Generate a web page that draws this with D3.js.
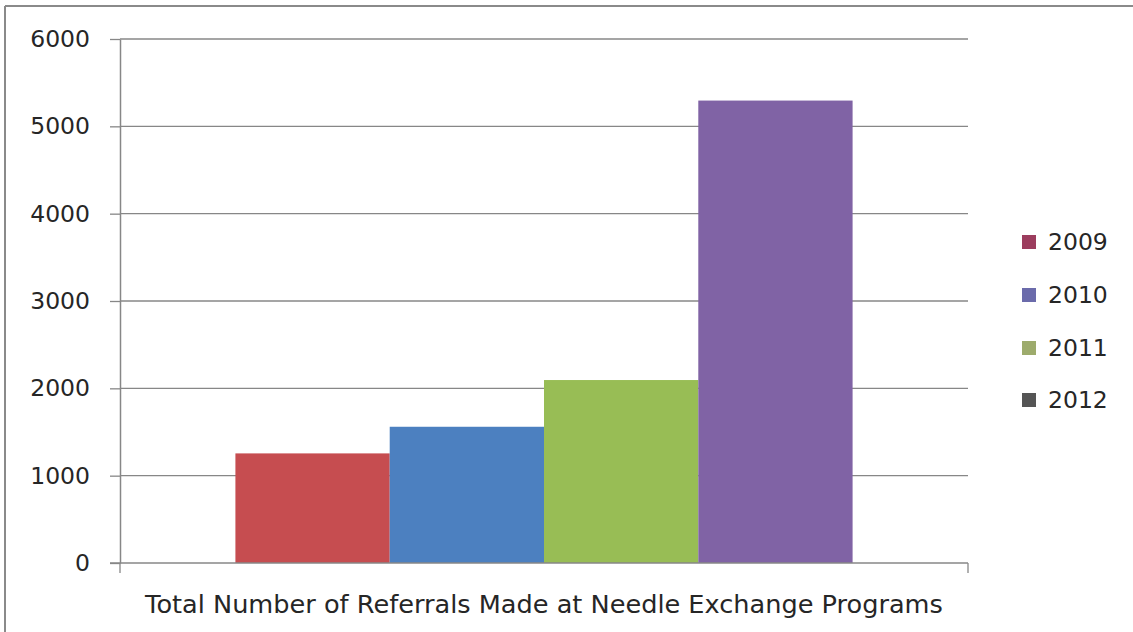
<!DOCTYPE html>
<html>
<head>
<meta charset="utf-8">
<script src="https://cdn.jsdelivr.net/npm/d3@7"></script>
<style>
  html, body { margin: 0; padding: 0; background: #fff; }
  svg { display: block; }
  text { font-family: "DejaVu Sans", sans-serif; fill: #262626; }
</style>
</head>
<body>
<svg id="chart" width="1133" height="632"></svg>
<script>
// ---- data ----
const category = "Total Number of Referrals Made at Needle Exchange Programs";
const series = ["2009", "2010", "2011", "2012"];
const values = [1255, 1560, 2095, 5295];
const yTicks = [0, 1000, 2000, 3000, 4000, 5000, 6000];
const barColors = ["#c64d50", "#4c80c0", "#98bd55", "#8063a5"];
const legendColors = ["#9c3d5e", "#6b6bab", "#9dab6c", "#555555"];

// ---- layout ----
const svg = d3.select("#chart");
const plot = { left: 120, right: 968, top: 39, bottom: 563 };

// frame (top and left borders of the clipped picture)
svg.append("line").attr("x1", 5).attr("x2", 1133).attr("y1", 6).attr("y2", 6)
  .attr("stroke", "#8a8a8a").attr("stroke-width", 2);
svg.append("line").attr("x1", 5).attr("x2", 5).attr("y1", 6).attr("y2", 632)
  .attr("stroke", "#8a8a8a").attr("stroke-width", 2);
// clipped descender of heading above
svg.append("text").attr("x", 205).attr("y", -6).text("g")
  .style("font-family", "Liberation Serif").style("font-size", "22px").style("font-weight", "bold");

const y = d3.scaleLinear().domain([0, 6000]).range([plot.bottom, plot.top]);
const x0 = d3.scaleBand().domain([category]).range([plot.left, plot.right]).paddingInner(0).paddingOuter(0.187);
const x1 = d3.scaleBand().domain(series).range([0, x0.bandwidth()]).padding(0);

// gridlines
svg.append("g").selectAll("line").data(yTicks.filter(d => d > 0)).join("line")
  .attr("x1", plot.left).attr("x2", plot.right)
  .attr("y1", d => y(d)).attr("y2", d => y(d))
  .attr("stroke", "#878787").attr("stroke-width", 1.3);

// bars
svg.append("g").selectAll("rect").data(values).join("rect")
  .attr("x", (d, i) => x0(category) + x1(series[i]))
  .attr("width", x1.bandwidth())
  .attr("y", d => y(d))
  .attr("height", d => y(0) - y(d))
  .attr("fill", (d, i) => barColors[i]);

// y axis
const yAxis = svg.append("g").attr("transform", `translate(${plot.left},0)`)
  .call(d3.axisLeft(y).tickValues(yTicks).tickFormat(d3.format("d")).tickSize(10).tickPadding(20).tickSizeOuter(0));
yAxis.select(".domain").attr("stroke", "#878787").attr("stroke-width", 1.5);
yAxis.selectAll(".tick line").attr("stroke", "#878787").attr("stroke-width", 1.3);
yAxis.selectAll("text").style("font-size", "23.5px").style("font-family", "DejaVu Sans").attr("fill", "#262626");

// x axis (category axis with end ticks)
const xAxisG = svg.append("g").attr("transform", `translate(0,${plot.bottom})`);
xAxisG.append("line").attr("x1", plot.left - 10).attr("x2", plot.right).attr("y1", 0).attr("y2", 0)
  .attr("stroke", "#878787").attr("stroke-width", 1.5);
xAxisG.selectAll("line.tk").data([plot.left, plot.right]).join("line").attr("class", "tk")
  .attr("x1", d => d).attr("x2", d => d).attr("y1", 0).attr("y2", 10)
  .attr("stroke", "#878787").attr("stroke-width", 1.3);

const xl = svg.append("text").attr("x", (plot.left + plot.right) / 2).attr("y", 613)
  .attr("text-anchor", "middle").style("font-size", "22px").text(category);
// fit label width to the reference's span
const w = xl.node().getComputedTextLength();
xl.style("font-size", (22 * 798 / w).toFixed(2) + "px");

// legend
const leg = svg.append("g");
series.forEach((s, i) => {
  const cy = [242, 295, 348, 400][i];
  leg.append("rect").attr("x", 1022).attr("y", cy - 7).attr("width", 14).attr("height", 14)
    .attr("fill", legendColors[i]);
  leg.append("text").attr("x", 1048).attr("y", cy + 8).style("font-size", "23.5px").text(s);
});
</script>
</body>
</html>
